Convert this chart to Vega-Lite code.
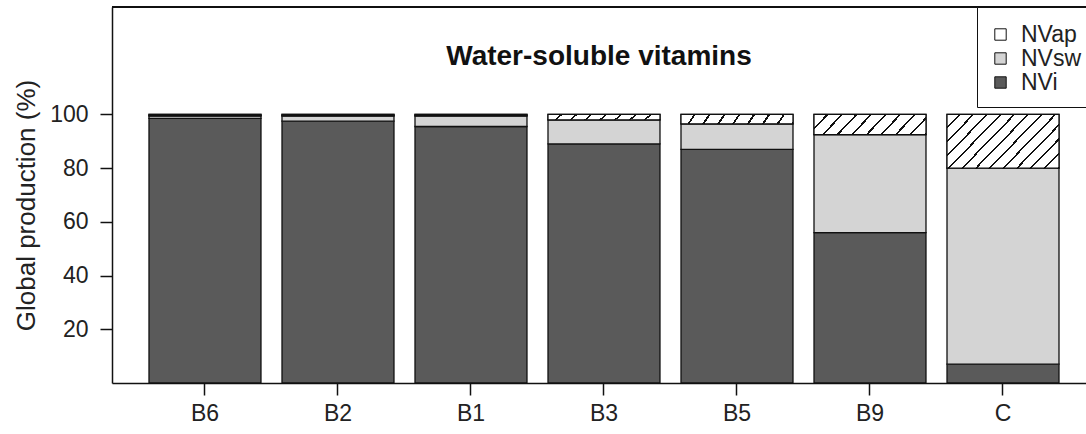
{
  "$schema": "https://vega.github.io/schema/vega-lite/v6.json",
  "width": 974,
  "height": 376,
  "autosize": "none",
  "padding": {"left": 112, "top": 7, "right": 0, "bottom": 51},
  "background": "white",
  "config": {
    "view": {"stroke": null},
    "font": "Liberation Sans",
    "axis": {"labelFont": "Liberation Sans", "titleFont": "Liberation Sans", "labelColor": "#222", "titleColor": "#222", "domainColor": "#111", "tickColor": "#111", "grid": false},
    "legend": {"symbolStrokeColor": "#111", "symbolStrokeWidth": 1}
  },
  "title": {"text": "Water-soluble vitamins", "fontSize": 28, "fontWeight": "bold", "font": "Liberation Sans", "color": "#111", "anchor": "middle", "offset": -65},
  "data": {"values": [
    {"vit": "B6", "cat": "NVi", "pct": 98.5},
    {"vit": "B6", "cat": "NVsw", "pct": 1},
    {"vit": "B6", "cat": "NVap", "pct": 0.5},
    {"vit": "B2", "cat": "NVi", "pct": 97.5},
    {"vit": "B2", "cat": "NVsw", "pct": 2},
    {"vit": "B2", "cat": "NVap", "pct": 0.5},
    {"vit": "B1", "cat": "NVi", "pct": 95.5},
    {"vit": "B1", "cat": "NVsw", "pct": 4},
    {"vit": "B1", "cat": "NVap", "pct": 0.5},
    {"vit": "B3", "cat": "NVi", "pct": 89},
    {"vit": "B3", "cat": "NVsw", "pct": 9},
    {"vit": "B3", "cat": "NVap", "pct": 2},
    {"vit": "B5", "cat": "NVi", "pct": 87},
    {"vit": "B5", "cat": "NVsw", "pct": 9.5},
    {"vit": "B5", "cat": "NVap", "pct": 3.5},
    {"vit": "B9", "cat": "NVi", "pct": 56},
    {"vit": "B9", "cat": "NVsw", "pct": 36.5},
    {"vit": "B9", "cat": "NVap", "pct": 7.5},
    {"vit": "C", "cat": "NVi", "pct": 7},
    {"vit": "C", "cat": "NVsw", "pct": 73},
    {"vit": "C", "cat": "NVap", "pct": 20}
  ]},
  "transform": [
    {"stack": "pct", "groupby": ["vit"], "as": ["y0", "y1"]}
  ],
  "layer": [
    {
      "mark": {"type": "bar", "stroke": "#111", "strokeWidth": 1.3},
      "encoding": {
        "x": {"field": "vit", "type": "nominal", "sort": ["B6", "B2", "B1", "B3", "B5", "B9", "C"],
              "scale": {"paddingInner": 0.158, "paddingOuter": 0.2406, "align": 0.578},
              "axis": {"title": null, "labelAngle": 0, "labelFontSize": 23, "tickSize": 12, "tickWidth": 1.5, "domainWidth": 1.5, "labelPadding": 7}},
        "y": {"field": "y0", "type": "quantitative", "title": "Global production (%)",
              "scale": {"domain": [0, 140], "nice": false},
              "axis": {"values": [20, 40, 60, 80, 100], "labelFontSize": 23, "titleFontSize": 26, "titleFontWeight": "normal", "tickSize": 12, "tickWidth": 1.5, "domainWidth": 1.5, "labelPadding": 12, "titlePadding": 10, "titleY": 198}},
        "y2": {"field": "y1"},
        "fill": {"field": "cat", "type": "nominal",
                 "scale": {"domain": ["NVap", "NVsw", "NVi"], "range": ["#ffffff", "#d4d4d4", "#5a5a5a"]},
                 "legend": {"title": " ", "titleFontSize": 4, "titlePadding": 0, "orient": "none", "legendX": 865, "legendY": 0, "strokeColor": "#111", "fillColor": "white", "padding": 12, "symbolType": "square", "symbolSize": 130, "symbolStrokeColor": "#111", "symbolStrokeWidth": 1, "symbolOpacity": 1, "labelFontSize": 23, "labelFont": "Liberation Sans", "labelColor": "#222", "rowPadding": 0, "labelOffset": 9,
                   "encode": {"symbols": {"update": {
                     "stroke": {"value": "#111"},
                     "strokeWidth": {"value": 1},
                     "fill": {"signal": "datum.value === 'NVap' ? {gradient: 'linear', x1: 0, y1: 0, x2: 1, y2: 1, stops: [{offset: 0, color: '#ffffff'}, {offset: 0.42, color: '#ffffff'}, {offset: 0.42, color: '#111111'}, {offset: 0.58, color: '#111111'}, {offset: 0.58, color: '#ffffff'}, {offset: 1, color: '#ffffff'}]} : (datum.value === 'NVsw' ? '#d4d4d4' : '#5a5a5a')"}}}}}}
      }
    },
    {
      "transform": [{"filter": "datum.cat === 'NVap' && datum.vit !== 'B9' && datum.vit !== 'C'"}],
      "mark": {"type": "bar", "stroke": "#111", "strokeWidth": 1.3,
               "fill": {"gradient": "linear", "x1": 0, "y1": 0, "x2": 1.06, "y2": 0.06, "stops": [
                 {"offset": 0, "color": "#ffffff"}, {"offset": 0.106, "color": "#ffffff"}, {"offset": 0.106, "color": "#111111"}, {"offset": 0.125, "color": "#111111"},
                 {"offset": 0.125, "color": "#ffffff"}, {"offset": 0.231, "color": "#ffffff"}, {"offset": 0.231, "color": "#111111"}, {"offset": 0.25, "color": "#111111"},
                 {"offset": 0.25, "color": "#ffffff"}, {"offset": 0.356, "color": "#ffffff"}, {"offset": 0.356, "color": "#111111"}, {"offset": 0.375, "color": "#111111"},
                 {"offset": 0.375, "color": "#ffffff"}, {"offset": 0.481, "color": "#ffffff"}, {"offset": 0.481, "color": "#111111"}, {"offset": 0.5, "color": "#111111"},
                 {"offset": 0.5, "color": "#ffffff"}, {"offset": 0.606, "color": "#ffffff"}, {"offset": 0.606, "color": "#111111"}, {"offset": 0.625, "color": "#111111"},
                 {"offset": 0.625, "color": "#ffffff"}, {"offset": 0.731, "color": "#ffffff"}, {"offset": 0.731, "color": "#111111"}, {"offset": 0.75, "color": "#111111"},
                 {"offset": 0.75, "color": "#ffffff"}, {"offset": 0.856, "color": "#ffffff"}, {"offset": 0.856, "color": "#111111"}, {"offset": 0.875, "color": "#111111"},
                 {"offset": 0.875, "color": "#ffffff"}, {"offset": 0.981, "color": "#ffffff"}, {"offset": 0.981, "color": "#111111"}, {"offset": 1, "color": "#111111"}]}},
      "encoding": {
        "x": {"field": "vit", "type": "nominal", "sort": ["B6", "B2", "B1", "B3", "B5", "B9", "C"]},
        "y": {"field": "y0", "type": "quantitative"},
        "y2": {"field": "y1"}
      }
    },
    {
      "transform": [{"filter": "datum.cat === 'NVap' && datum.vit === 'B9'"}],
      "mark": {"type": "bar", "stroke": "#111", "strokeWidth": 1.3,
               "fill": {"gradient": "linear", "x1": 0, "y1": 0, "x2": 1.137, "y2": 0.193, "stops": [
                 {"offset": 0, "color": "#ffffff"}, {"offset": 0.0944, "color": "#ffffff"}, {"offset": 0.0944, "color": "#111111"}, {"offset": 0.1111, "color": "#111111"},
                 {"offset": 0.1111, "color": "#ffffff"}, {"offset": 0.2056, "color": "#ffffff"}, {"offset": 0.2056, "color": "#111111"}, {"offset": 0.2222, "color": "#111111"},
                 {"offset": 0.2222, "color": "#ffffff"}, {"offset": 0.3167, "color": "#ffffff"}, {"offset": 0.3167, "color": "#111111"}, {"offset": 0.3333, "color": "#111111"},
                 {"offset": 0.3333, "color": "#ffffff"}, {"offset": 0.4278, "color": "#ffffff"}, {"offset": 0.4278, "color": "#111111"}, {"offset": 0.4444, "color": "#111111"},
                 {"offset": 0.4444, "color": "#ffffff"}, {"offset": 0.5389, "color": "#ffffff"}, {"offset": 0.5389, "color": "#111111"}, {"offset": 0.5556, "color": "#111111"},
                 {"offset": 0.5556, "color": "#ffffff"}, {"offset": 0.65, "color": "#ffffff"}, {"offset": 0.65, "color": "#111111"}, {"offset": 0.6667, "color": "#111111"},
                 {"offset": 0.6667, "color": "#ffffff"}, {"offset": 0.7611, "color": "#ffffff"}, {"offset": 0.7611, "color": "#111111"}, {"offset": 0.7778, "color": "#111111"},
                 {"offset": 0.7778, "color": "#ffffff"}, {"offset": 0.8722, "color": "#ffffff"}, {"offset": 0.8722, "color": "#111111"}, {"offset": 0.8889, "color": "#111111"},
                 {"offset": 0.8889, "color": "#ffffff"}, {"offset": 0.9833, "color": "#ffffff"}, {"offset": 0.9833, "color": "#111111"}, {"offset": 1, "color": "#111111"}]}},
      "encoding": {
        "x": {"field": "vit", "type": "nominal", "sort": ["B6", "B2", "B1", "B3", "B5", "B9", "C"]},
        "y": {"field": "y0", "type": "quantitative"},
        "y2": {"field": "y1"}
      }
    },
    {
      "transform": [{"filter": "datum.cat === 'NVap' && datum.vit === 'C'"}],
      "mark": {"type": "bar", "stroke": "#111", "strokeWidth": 1.3,
               "fill": {"gradient": "linear", "x1": 0, "y1": 0, "x2": 1.205, "y2": 0.561, "stops": [
                 {"offset": 0, "color": "#ffffff"}, {"offset": 0.0708, "color": "#ffffff"}, {"offset": 0.0708, "color": "#111111"}, {"offset": 0.0833, "color": "#111111"},
                 {"offset": 0.0833, "color": "#ffffff"}, {"offset": 0.1542, "color": "#ffffff"}, {"offset": 0.1542, "color": "#111111"}, {"offset": 0.1667, "color": "#111111"},
                 {"offset": 0.1667, "color": "#ffffff"}, {"offset": 0.2375, "color": "#ffffff"}, {"offset": 0.2375, "color": "#111111"}, {"offset": 0.25, "color": "#111111"},
                 {"offset": 0.25, "color": "#ffffff"}, {"offset": 0.3208, "color": "#ffffff"}, {"offset": 0.3208, "color": "#111111"}, {"offset": 0.3333, "color": "#111111"},
                 {"offset": 0.3333, "color": "#ffffff"}, {"offset": 0.4042, "color": "#ffffff"}, {"offset": 0.4042, "color": "#111111"}, {"offset": 0.4167, "color": "#111111"},
                 {"offset": 0.4167, "color": "#ffffff"}, {"offset": 0.4875, "color": "#ffffff"}, {"offset": 0.4875, "color": "#111111"}, {"offset": 0.5, "color": "#111111"},
                 {"offset": 0.5, "color": "#ffffff"}, {"offset": 0.5708, "color": "#ffffff"}, {"offset": 0.5708, "color": "#111111"}, {"offset": 0.5833, "color": "#111111"},
                 {"offset": 0.5833, "color": "#ffffff"}, {"offset": 0.6542, "color": "#ffffff"}, {"offset": 0.6542, "color": "#111111"}, {"offset": 0.6667, "color": "#111111"},
                 {"offset": 0.6667, "color": "#ffffff"}, {"offset": 0.7375, "color": "#ffffff"}, {"offset": 0.7375, "color": "#111111"}, {"offset": 0.75, "color": "#111111"},
                 {"offset": 0.75, "color": "#ffffff"}, {"offset": 0.8208, "color": "#ffffff"}, {"offset": 0.8208, "color": "#111111"}, {"offset": 0.8333, "color": "#111111"},
                 {"offset": 0.8333, "color": "#ffffff"}, {"offset": 0.9042, "color": "#ffffff"}, {"offset": 0.9042, "color": "#111111"}, {"offset": 0.9167, "color": "#111111"},
                 {"offset": 0.9167, "color": "#ffffff"}, {"offset": 0.9875, "color": "#ffffff"}, {"offset": 0.9875, "color": "#111111"}, {"offset": 1, "color": "#111111"}]}},
      "encoding": {
        "x": {"field": "vit", "type": "nominal", "sort": ["B6", "B2", "B1", "B3", "B5", "B9", "C"]},
        "y": {"field": "y0", "type": "quantitative"},
        "y2": {"field": "y1"}
      }
    },
    {
      "mark": {"type": "rule", "stroke": "#111", "strokeWidth": 1.5},
      "encoding": {"y": {"datum": 140}}
    }
  ]
}
